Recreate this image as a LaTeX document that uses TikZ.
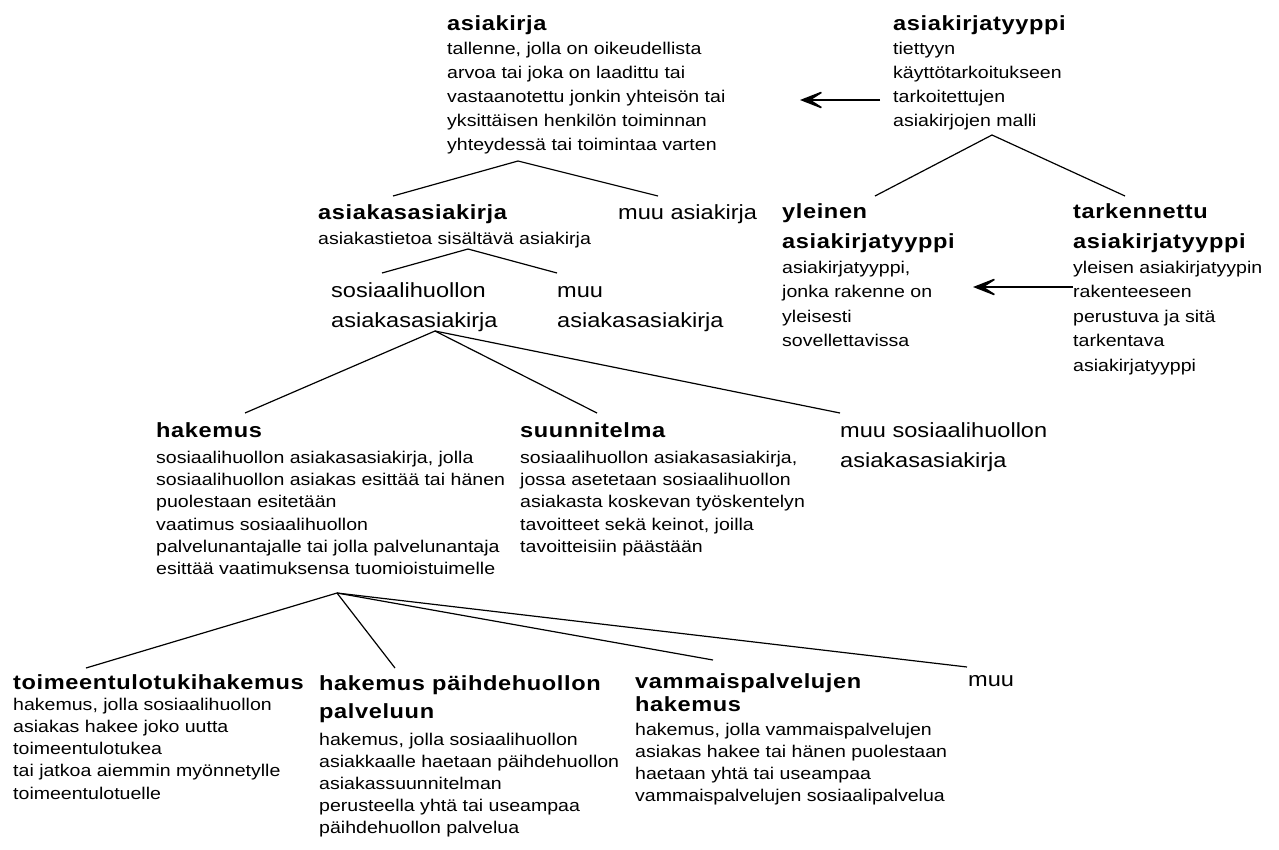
\documentclass[tikz,border=0pt]{standalone}
\usepackage{fontspec}
\setmainfont{Liberation Sans}[FakeStretch=1.15]
\newfontfamily\titlefam{Liberation Sans}[FakeStretch=1.15,LetterSpace=3]
\usepackage{tikz}
\usetikzlibrary{positioning,arrows.meta}
\newcommand\bodyfont[1]{\fontsize{17pt}{#1}\selectfont}
\newcommand\headfont{\titlefam\bfseries\fontsize{20.5pt}{30pt}\selectfont}
\newcommand\plainfont{\fontsize{20.5pt}{30pt}\selectfont}
% first line always 17pt high, so the node top sits 17pt above the first baseline
\newcommand\firstline{\rule{0pt}{17pt}}
\tikzset{
    concept/.style={
        anchor=north west,
        yshift=17pt,
        align=left,
        inner sep=0pt,
        font=\bodyfont{24pt},
    },
    other/.style={
        anchor=north west,
        yshift=17pt,
        align=left,
        inner sep=0pt,
        font=\plainfont,
    },
    tree/.style={
        line width=1.2pt,
    },
    isa/.style={
        -{Stealth[length=28pt,width=22pt,inset=17pt,line width=1.5pt]},
        line width=1.3pt,
    },
}

\begin{document}
\begin{tikzpicture}[x=1pt,y=-1pt]
        \useasboundingbox (0,0) rectangle (1279,849);
        % top level
        \node[concept] (asiakirja) at (447,30) {\firstline{\headfont asiakirja}\\[0.5pt]
            tallenne, jolla on oikeudellista\\arvoa tai joka on laadittu tai\\
            vastaanotettu jonkin yhteisön tai\\yksittäisen henkilön toiminnan\\
            yhteydessä tai toimintaa varten};
        \node[concept] (tyyppi) at (893,30) {\firstline{\headfont asiakirjatyyppi}\\[0.5pt]
            tiettyyn\\käyttötarkoitukseen\\tarkoitettujen\\asiakirjojen malli};
        \node[concept, font=\bodyfont{25pt}] (asiakas) at (318,219) {\firstline{\headfont asiakasasiakirja}\\
            asiakastietoa sisältävä asiakirja};
        \node[other] (muuasiakirja) at (618,219) {\firstline muu asiakirja};
        \node[concept, font=\bodyfont{24.5pt}] (yleinen) at (782,218) {\firstline{\headfont yleinen}\\[5.5pt]
            {\headfont asiakirjatyyppi}\\[0.5pt]
            asiakirjatyyppi,\\jonka rakenne on\\yleisesti\\sovellettavissa};
        \node[concept, font=\bodyfont{24.5pt}] (tarkennettu) at (1073,218) {\firstline{\headfont tarkennettu}\\[5.5pt]
            {\headfont asiakirjatyyppi}\\[0.5pt]
            yleisen asiakirjatyypin\\rakenteeseen\\perustuva ja sitä\\tarkentava\\asiakirjatyyppi};
        % sosiaalihuolto
        \node[other] (sosiaali) at (331,297) {\firstline sosiaalihuollon\\asiakasasiakirja};
        \node[other] (muuasiakas) at (557,297) {\firstline muu\\asiakasasiakirja};
        \node[concept, font=\bodyfont{22.3pt}] (hakemus) at (156,437) {\firstline{\headfont hakemus}\\[3.7pt]
            sosiaalihuollon asiakasasiakirja, jolla\\sosiaalihuollon asiakas esittää tai hänen\\
            puolestaan esitetään\\vaatimus sosiaalihuollon\\
            palvelunantajalle tai jolla palvelunantaja\\esittää vaatimuksensa tuomioistuimelle};
        \node[concept, font=\bodyfont{22.3pt}] (suunnitelma) at (520,437) {\firstline{\headfont suunnitelma}\\[3.7pt]
            sosiaalihuollon asiakasasiakirja,\\jossa asetetaan sosiaalihuollon\\
            asiakasta koskevan työskentelyn\\tavoitteet sekä keinot, joilla\\tavoitteisiin päästään};
        \node[other] (muusosiaali) at (840,437) {\firstline muu sosiaalihuollon\\asiakasasiakirja};
        % hakemukset
        \node[concept, font=\bodyfont{22.3pt}] (toimeentulo) at (13,689) {\firstline{\headfont toimeentulotukihakemus}\\[-1.5pt]
            hakemus, jolla sosiaalihuollon\\asiakas hakee joko uutta\\toimeentulotukea\\
            tai jatkoa aiemmin myönnetylle\\toimeentulotuelle};
        \node[concept, font=\bodyfont{22pt}] (paihde) at (319,690) {\firstline{\headfont hakemus päihdehuollon}\\[6pt]
            {\headfont palveluun}\\[5pt]
            hakemus, jolla sosiaalihuollon\\asiakkaalle haetaan päihdehuollon\\asiakassuunnitelman\\
            perusteella yhtä tai useampaa\\päihdehuollon palvelua};
        \node[concept, font=\bodyfont{22pt}] (vammais) at (635,688) {\firstline{\headfont vammaispalvelujen}\\[1pt]
            {\headfont hakemus}\\[2pt]
            hakemus, jolla vammaispalvelujen\\asiakas hakee tai hänen puolestaan\\
            haetaan yhtä tai useampaa\\vammaispalvelujen sosiaalipalvelua};
        \node[other] (muuhakemus) at (968,686) {\firstline muu};

        % fork points
        \coordinate (asiakirjaFork) at (518,161);
        \coordinate (tyyppiFork) at (992,135);
        \coordinate (asiakasFork) at (468,249);
        \coordinate (sosiaaliFork) at (435,331);
        \coordinate (hakemusFork) at (337,593);

        \draw[tree] (asiakirjaFork) -- ([shift={(75,-6)}]asiakas.north west);
        \draw[tree] (asiakirjaFork) -- ([shift={(40,-6)}]muuasiakirja.north west);
        \draw[tree] (tyyppiFork) -- ([shift={(93,-5)}]yleinen.north west);
        \draw[tree] (tyyppiFork) -- ([shift={(52,-5)}]tarkennettu.north west);
        \draw[tree] (asiakasFork) -- ([shift={(51,-7)}]sosiaali.north west);
        \draw[tree] (asiakasFork) -- ([shift={(0,-7)}]muuasiakas.north west);
        \draw[tree] (sosiaaliFork) -- ([shift={(89,-7)}]hakemus.north west);
        \draw[tree] (sosiaaliFork) -- ([shift={(77,-7)}]suunnitelma.north west);
        \draw[tree] (sosiaaliFork) -- ([shift={(0,-7)}]muusosiaali.north west);
        \draw[tree] (hakemusFork) -- ([shift={(73,-4)}]toimeentulo.north west);
        \draw[tree] (hakemusFork) -- ([shift={(76,-5)}]paihde.north west);
        \draw[tree] (hakemusFork) -- ([shift={(78,-11)}]vammais.north west);
        \draw[tree] (hakemusFork) -- ([shift={(-1,-2)}]muuhakemus.north west);

        \draw[isa] ([shift={(-13,87)}]tyyppi.north west) -- ++(-80,0);
        \draw[isa] ([shift={(0,86)}]tarkennettu.north west) -- ++(-100,0);
    \end{tikzpicture}
\end{document}
